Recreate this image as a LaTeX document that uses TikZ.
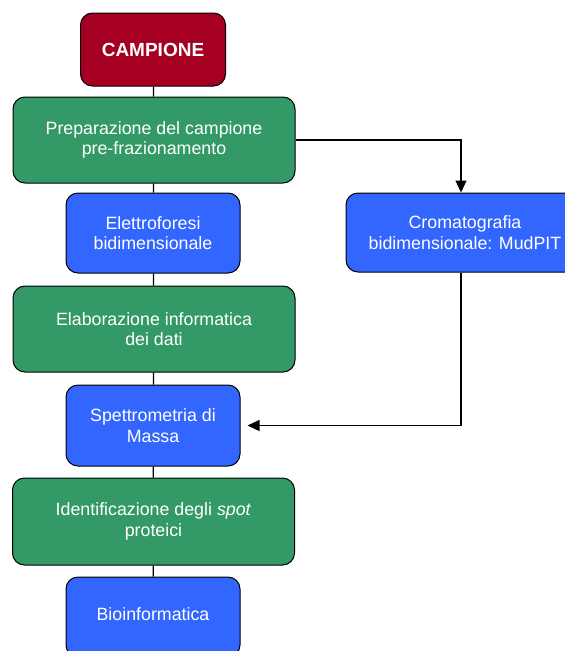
\documentclass[tikz,border=0pt]{standalone}
\usepackage{fontspec}
\setmainfont{Liberation Sans}
\usetikzlibrary{arrows.meta}
\definecolor{cred}{HTML}{A50021}
\definecolor{cgreen}{HTML}{339966}
\definecolor{cblue}{HTML}{3366FF}
\begin{document}
\begin{tikzpicture}[x=1pt,y=-1pt,
  box/.style={draw=black, line width=1pt, rounded corners=12pt, text=white, align=center,
    font=\fontsize{17.8}{20.5}\selectfont, inner sep=0pt},
  redbox/.style={box, fill=cred, font=\fontsize{19}{21}\selectfont\bfseries},
  greenbox/.style={box, fill=cgreen, minimum width=282pt, minimum height=86pt},
  bluebox/.style={box, fill=cblue, minimum width=174pt, minimum height=80pt},
  link/.style={draw=black, line width=1.3pt},
  arr/.style={link, -{Triangle[length=12pt,width=11pt]}}]
\useasboundingbox (0,0) rectangle (565,651);
\clip (0,0) rectangle (565,651);
\node[redbox, minimum width=145pt, minimum height=73pt] (camp) at (153,49.5) {CAMPIONE};
\node[greenbox] (prep) at (154,140) {Preparazione del campione\\pre-frazionamento};
\node[bluebox] (elet) at (153,233) {Elettroforesi\\bidimensionale};
\node[greenbox] (elab) at (154,329) {Elaborazione informatica\\dei dati};
\node[bluebox, minimum height=81pt] (spet) at (153,425.5) {Spettrometria di\\Massa};
\node[greenbox, minimum height=87pt] (iden) at (153.5,521.5) {Identificazione degli \textit{spot}\\proteici};
\node[bluebox] (bio) at (153,617) {\raisebox{5pt}{Bioinformatica}};
\node[bluebox, minimum width=238pt, minimum height=79pt] (crom) at (465,232.5) {Cromatografia\\bidimensionale: MudPIT};
\draw[link] (camp) -- (prep);
\draw[link] (prep) -- (elet);
\draw[link] (elet) -- (elab);
\draw[link] (elab) -- (spet);
\draw[link] (spet) -- (iden);
\draw[link] (iden) -- (bio);
\draw[arr] (prep.east) -| ([xshift=-4pt]crom.north);
\draw[arr] ([xshift=-4pt]crom.south) |- ([xshift=7pt]spet.east);
\end{tikzpicture}
\end{document}
